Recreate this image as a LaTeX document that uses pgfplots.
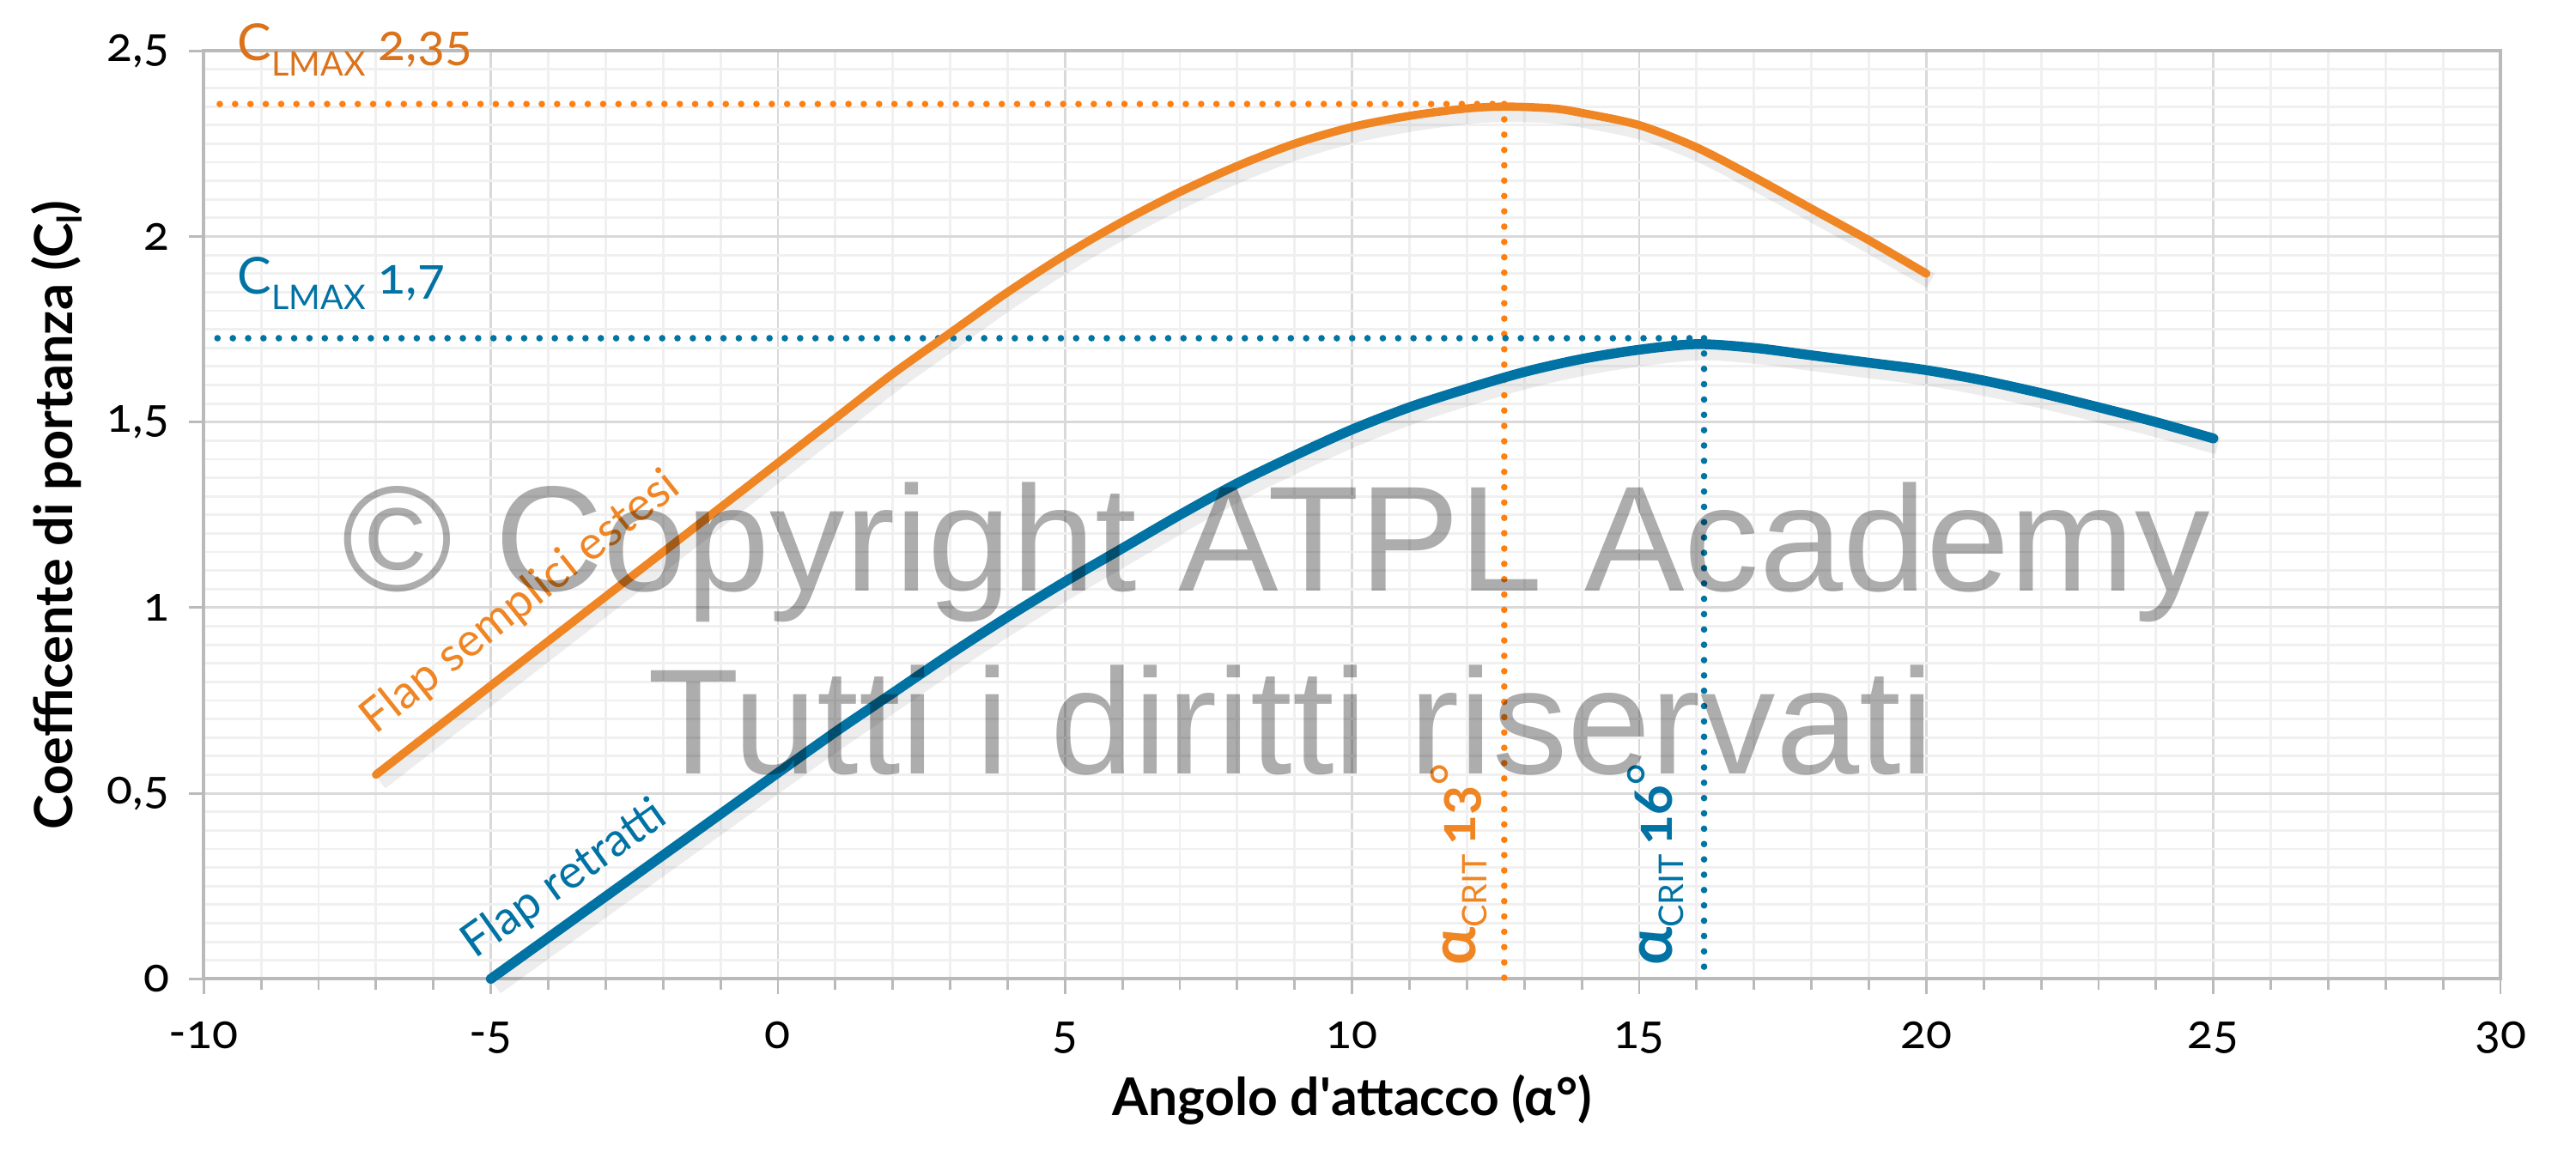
\documentclass[border=0pt]{standalone}
\usepackage{fontspec}
\setmainfont{Lato}[Numbers=OldStyle]
\newfontfamily\wmfont{Liberation Sans}
\usepackage{pgfplots}
\pgfplotsset{compat=1.18}
\usetikzlibrary{calc}
\definecolor{cOr}{HTML}{EF8523}
\definecolor{cOrDot}{HTML}{FF7F0F}
\definecolor{cOrTxt}{HTML}{DB731C}
\definecolor{cBl}{HTML}{0072A3}
\definecolor{cBlDot}{HTML}{0074A2}
\begin{document}
\begin{tikzpicture}
\begin{axis}[
  name=ax,
  scale only axis, width=419.4pt, height=169.5pt,
  xmin=-10, xmax=30, ymin=0, ymax=2.5,
  xtick={-10,-5,...,30}, ytick={0,0.5,1,1.5,2,2.5},
  minor x tick num=4, minor y tick num=9,
  grid=both,
  major grid style={draw=black!15, line width=0.45pt},
  minor grid style={draw=black!6, line width=0.45pt},
  axis line style={draw=black!27, line width=0.6pt},
  tick align=outside,
  major tick length=2.7pt, minor tick length=2pt,
  tick style={draw=black!27, line width=0.45pt},
  minor y tick style={draw=none},
  xtick pos=bottom, ytick pos=left,
  /pgf/number format/assume math mode=true,
  /pgf/number format/use comma,
  ticklabel style={font=\fontsize{8.7}{10}\selectfont, text=black},
  xticklabel style={yshift=-1.6pt},
  clip=false,
]
% shadows
\addplot[black, opacity=0.07, line width=3pt, smooth, xshift=0.8pt, yshift=-1.3pt] coordinates {
(-7,0.55) (-5,0.79) (-3,1.03) (-1,1.27) (0,1.39) (1,1.51) (2,1.63) (3,1.74) (4,1.85) (5,1.95) (6,2.04) (7,2.12) (8,2.19) (9,2.25) (10,2.295) (11,2.325) (12,2.345) (12.7,2.35) (13.5,2.345) (14,2.333) (15,2.30) (16,2.24) (17,2.16) (18,2.075) (19,1.99) (20,1.90)};
\addplot[black, opacity=0.07, line width=3.3pt, smooth, xshift=0.8pt, yshift=-1.3pt] coordinates {
(-5,0) (-4,0.111) (-3,0.222) (-2,0.333) (-1,0.444) (0,0.555) (1,0.665) (2,0.77) (3,0.875) (4,0.975) (5,1.07) (6,1.16) (7,1.25) (8,1.335) (9,1.41) (10,1.48) (11,1.54) (12,1.59) (13,1.635) (14,1.67) (15,1.695) (16,1.71) (17,1.70) (18,1.68) (19,1.66) (20,1.64) (21,1.612) (22,1.578) (23,1.54) (24,1.50) (25,1.456)};
% dotted guides
\addplot[cOrDot, line width=1.2pt, line cap=round, dash pattern=on 0pt off 2.8pt] coordinates {(-9.72,2.357) (12.65,2.357)};
\addplot[cOrDot, line width=1.2pt, line cap=round, dash pattern=on 0pt off 2.8pt] coordinates {(12.65,2.357) (12.65,0)};
\addplot[cBlDot, line width=1.2pt, line cap=round, dash pattern=on 0pt off 2.8pt] coordinates {(-9.76,1.726) (16.13,1.726)};
\addplot[cBlDot, line width=1.2pt, line cap=round, dash pattern=on 0pt off 2.8pt] coordinates {(16.13,1.726) (16.13,0)};
% curves
\addplot[cOr, line width=1.5pt, line cap=round, smooth] coordinates {
(-7,0.55) (-5,0.79) (-3,1.03) (-1,1.27) (0,1.39) (1,1.51) (2,1.63) (3,1.74) (4,1.85) (5,1.95) (6,2.04) (7,2.12) (8,2.19) (9,2.25) (10,2.295) (11,2.325) (12,2.345) (12.7,2.35) (13.5,2.345) (14,2.333) (15,2.30) (16,2.24) (17,2.16) (18,2.075) (19,1.99) (20,1.90)};
\addplot[cBl, line width=1.8pt, line cap=round, smooth] coordinates {
(-5,0) (-4,0.111) (-3,0.222) (-2,0.333) (-1,0.444) (0,0.555) (1,0.665) (2,0.77) (3,0.875) (4,0.975) (5,1.07) (6,1.16) (7,1.25) (8,1.335) (9,1.41) (10,1.48) (11,1.54) (12,1.59) (13,1.635) (14,1.67) (15,1.695) (16,1.71) (17,1.70) (18,1.68) (19,1.66) (20,1.64) (21,1.612) (22,1.578) (23,1.54) (24,1.50) (25,1.456)};
% labels
\node[anchor=base west, inner sep=0, text=cOrTxt, font=\fontsize{9.3}{9.3}\selectfont] at (axis cs:-9.43,2.473) {C\raisebox{-2.8pt}{\fontsize{6.2}{6.2}\selectfont LMAX} 2,35};
\node[anchor=base west, inner sep=0, text=cBl, font=\fontsize{9.3}{9.3}\selectfont] at (axis cs:-9.43,1.845) {C\raisebox{-2.8pt}{\fontsize{6.2}{6.2}\selectfont LMAX} 1,7};
\node[anchor=base west, inner sep=0, rotate=38.5, text=cOr, font=\fontsize{8.5}{8.5}\selectfont] at (axis cs:-7.02,0.655) {Flap semplici estesi};
\node[anchor=base west, inner sep=0, rotate=35.5, text=cBl, font=\fontsize{8.5}{8.5}\selectfont] at (axis cs:-5.28,0.05) {Flap retratti};
\node[anchor=base west, inner sep=0, rotate=90, text=cOr, font=\fontsize{10}{10}\selectfont] at (axis cs:12.15,0.033) {{\bfseries\fontsize{11.5}{11.5}\selectfont α}\raisebox{-2pt}{\fontsize{6.2}{6.2}\selectfont CRIT}\,{\bfseries 13}\raisebox{1pt}{°}};
\node[anchor=base west, inner sep=0, rotate=90, text=cBl, font=\fontsize{10}{10}\selectfont] at (axis cs:15.58,0.033) {{\bfseries\fontsize{11.5}{11.5}\selectfont α}\raisebox{-2pt}{\fontsize{6.2}{6.2}\selectfont CRIT}\,{\bfseries 16}\raisebox{1pt}{°}};
% watermark
\node[anchor=base, inner sep=0, text=black, opacity=0.32, font=\wmfont\fontsize{27.4}{27.4}\selectfont] at (axis cs:8.68,1.045) {© Copyright ATPL Academy};
\node[anchor=base, inner sep=0, text=black, opacity=0.32, font=\wmfont\fontsize{27.4}{27.4}\selectfont] at (axis cs:8.94,0.553) {Tutti i diritti riservati};
\end{axis}
\node[anchor=base, inner sep=0, font=\bfseries\fontsize{9.5}{9.5}\selectfont] at ($(ax.south)+(0,-25pt)$) {Angolo d\textquotesingle attacco (α°)};
\node[anchor=base, inner sep=0, rotate=90, font=\bfseries\fontsize{9.6}{9.6}\selectfont] at ($(ax.west)+(-24pt,0)$) {Coefficente di portanza (C\raisebox{-1.8pt}{\fontsize{6.2}{6.2}\selectfont l})};
\pgfresetboundingbox
\path ($(ax.south west)+(-37.2pt,-32.7pt)$) rectangle ($(ax.north east)+(13.8pt,9.3pt)$);
\end{tikzpicture}
\end{document}
